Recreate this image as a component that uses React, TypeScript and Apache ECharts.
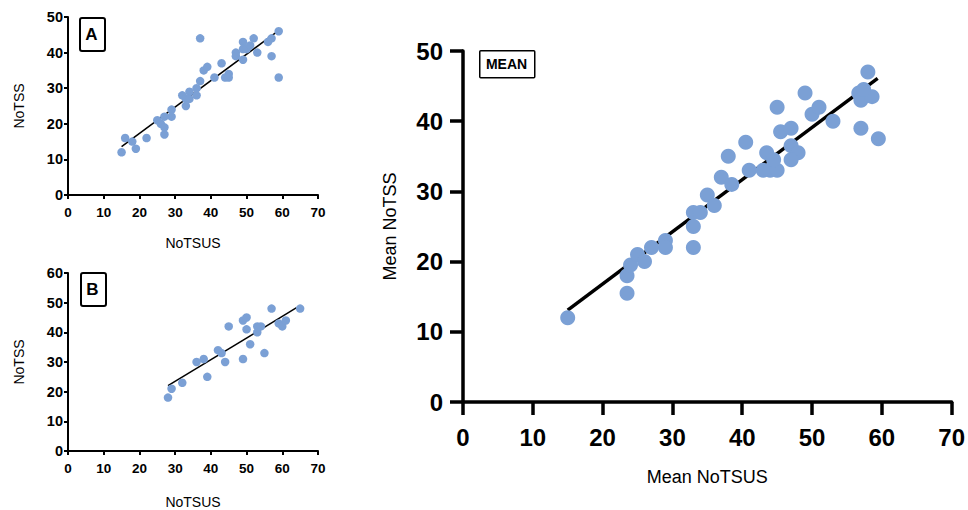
import React, { useEffect, useRef } from "react";
import * as echarts from "echarts";

// Panel A: NoTSUS vs NoTSS
const aX = [15, 16, 18, 19, 22, 25, 26, 27, 27, 27, 29, 29, 32, 33, 33, 34, 34, 36, 36, 37, 37, 38, 39, 41, 43, 44, 45, 45, 47, 47, 49, 49, 49, 50, 51, 52, 53, 56, 57, 57, 59, 59];
const aY = [12, 16, 15, 13, 16, 21, 20, 19, 17, 22, 24, 22, 28, 25, 27, 29, 27, 30, 28, 32, 44, 35, 36, 33, 37, 33, 34, 33, 40, 39, 43, 38, 41, 41, 42, 44, 40, 43, 44, 39, 46, 33];
const aFitX = [15, 58.3];
const aFitY = [13.6, 45.7];

// Panel B
const bX = [28, 29, 32, 36, 38, 39, 42, 43, 44, 45, 49, 50, 49, 50, 51, 53, 53, 54, 55, 57, 59, 60, 61, 65];
const bY = [18, 21, 23, 30, 31, 25, 34, 33, 30, 42, 44, 45, 31, 41, 36, 40, 42, 42, 33, 48, 43, 42, 44, 48];
const bFitX = [28, 64];
const bFitY = [22, 48.3];

// Mean panel
const mX = [15, 23.5, 23.5, 24, 25, 26, 27, 29, 29, 33, 33, 33, 34, 35, 36, 37, 38.5, 38, 40.5, 41, 43, 44, 45, 43.5, 44.5, 45, 45.5, 47, 47, 48, 47, 49, 50, 51, 53, 57, 59.5, 58, 56.7, 57, 58.6, 57.4];
const mY = [12, 15.5, 18, 19.5, 21, 20, 22, 23, 22, 22, 25, 27, 27, 29.5, 28, 32, 31, 35, 37, 33, 33, 33, 33, 35.5, 34.5, 42, 38.5, 39, 36.5, 35.5, 34.5, 44, 41, 42, 40, 39, 37.5, 47, 44, 43, 43.5, 44.5];
const mFitX = [15, 59.4];
const mFitY = [13.1, 46.1];

const FONT = "'Liberation Sans', Arial, Helvetica, sans-serif";
const DOT = "#7BA0D5";

const zip = (xs: number[], ys: number[]) => xs.map((x, i) => [x, ys[i]]);

export default function App() {
  const ref = useRef<HTMLDivElement>(null);
  useEffect(() => {
    if (!ref.current) return;
    const chart = echarts.init(ref.current, null, { renderer: "svg" });

    const smallAxisCommon = {
      axisLine: { show: true, lineStyle: { color: "#000", width: 2 } },
      axisTick: { show: true, length: 4, lineStyle: { color: "#000", width: 2 } },
      splitLine: { show: false },
      nameTextStyle: { fontFamily: FONT, fontSize: 14, color: "#000" },
    };
    const smallLabel = (margin: number, size: number) => ({
      fontFamily: FONT,
      fontSize: size,
      fontWeight: "bold" as const,
      color: "#000",
      margin,
    });
    const bigAxisCommon = {
      axisLine: { show: true, lineStyle: { color: "#000", width: 3.5 } },
      axisTick: { show: true, length: 13, lineStyle: { color: "#000", width: 3.5 } },
      splitLine: { show: false },
      nameTextStyle: { fontFamily: FONT, fontSize: 18, color: "#000" },
    };
    const bigLabel = (margin: number) => ({
      fontFamily: FONT,
      fontSize: 24,
      fontWeight: "bold" as const,
      color: "#000",
      margin,
    });

    chart.setOption({
      animation: false,
      grid: [
        { left: 68, top: 17, width: 250, height: 178 },
        { left: 68, top: 273, width: 250, height: 178 },
        { left: 463, top: 51, width: 490, height: 351 },
      ],
      xAxis: [
        {
          gridIndex: 0, type: "value", min: 0, max: 70, interval: 10,
          name: "NoTSUS", nameLocation: "middle", nameGap: 41,
          ...smallAxisCommon, axisLabel: smallLabel(10, 13.5),
        },
        {
          gridIndex: 1, type: "value", min: 0, max: 70, interval: 10,
          name: "NoTSUS", nameLocation: "middle", nameGap: 44,
          ...smallAxisCommon, axisLabel: smallLabel(10, 13.5),
        },
        {
          gridIndex: 2, type: "value", min: 0, max: 70, interval: 10,
          name: "Mean NoTSUS", nameLocation: "middle", nameGap: 66,
          ...bigAxisCommon, axisLabel: bigLabel(23),
        },
      ],
      yAxis: [
        {
          gridIndex: 0, type: "value", min: 0, max: 50, interval: 10,
          name: "NoTSS", nameLocation: "middle", nameGap: 42,
          ...smallAxisCommon, axisLabel: smallLabel(5, 14.5),
        },
        {
          gridIndex: 1, type: "value", min: 0, max: 60, interval: 10,
          name: "NoTSS", nameLocation: "middle", nameGap: 42,
          ...smallAxisCommon, axisLabel: smallLabel(5, 14.5),
        },
        {
          gridIndex: 2, type: "value", min: 0, max: 50, interval: 10,
          name: "Mean NoTSS", nameLocation: "middle", nameGap: 64,
          ...bigAxisCommon, axisLabel: bigLabel(20),
        },
      ],
      series: [
        {
          type: "line", xAxisIndex: 0, yAxisIndex: 0, data: zip(aFitX, aFitY),
          symbol: "none", lineStyle: { color: "#000", width: 1.5 }, z: 1,
        },
        {
          type: "scatter", xAxisIndex: 0, yAxisIndex: 0, data: zip(aX, aY),
          symbolSize: 8.5, itemStyle: { color: DOT, opacity: 1 }, z: 2,
        },
        {
          type: "line", xAxisIndex: 1, yAxisIndex: 1, data: zip(bFitX, bFitY),
          symbol: "none", lineStyle: { color: "#000", width: 1.5 }, z: 1,
        },
        {
          type: "scatter", xAxisIndex: 1, yAxisIndex: 1, data: zip(bX, bY),
          symbolSize: 8.5, itemStyle: { color: DOT, opacity: 1 }, z: 2,
        },
        {
          type: "line", xAxisIndex: 2, yAxisIndex: 2, data: zip(mFitX, mFitY),
          symbol: "none", lineStyle: { color: "#000", width: 3.5 }, z: 1,
        },
        {
          type: "scatter", xAxisIndex: 2, yAxisIndex: 2, data: zip(mX, mY),
          symbolSize: 15, itemStyle: { color: DOT, opacity: 1 }, z: 2,
        },
      ],
      graphic: [
        {
          type: "rect", left: 79, top: 17, z: 10,
          shape: { width: 25, height: 33, r: 2 },
          style: { fill: "#fff", stroke: "#000", lineWidth: 2 },
        },
        {
          type: "text", x: 91.5, y: 34, z: 11,
          style: { text: "A", fontFamily: FONT, fontSize: 17, fontWeight: "bold", fill: "#000", align: "center", verticalAlign: "middle" },
        },
        {
          type: "rect", left: 80, top: 272, z: 10,
          shape: { width: 25, height: 33, r: 2 },
          style: { fill: "#fff", stroke: "#000", lineWidth: 2 },
        },
        {
          type: "text", x: 92.5, y: 289, z: 11,
          style: { text: "B", fontFamily: FONT, fontSize: 17, fontWeight: "bold", fill: "#000", align: "center", verticalAlign: "middle" },
        },
        {
          type: "rect", left: 479, top: 50, z: 10,
          shape: { width: 55, height: 27, r: 1 },
          style: { fill: "#fff", stroke: "#000", lineWidth: 1.5 },
        },
        {
          type: "text", x: 506.5, y: 64, z: 11,
          style: { text: "MEAN", fontFamily: FONT, fontSize: 14, fontWeight: "bold", fill: "#000", align: "center", verticalAlign: "middle" },
        },
      ],
    });
    return () => chart.dispose();
  }, []);
  return (
    <div
      ref={ref}
      style={{ position: "absolute", left: 0, top: 0, width: 968, height: 510, background: "#fff" }}
    />
  );
}
